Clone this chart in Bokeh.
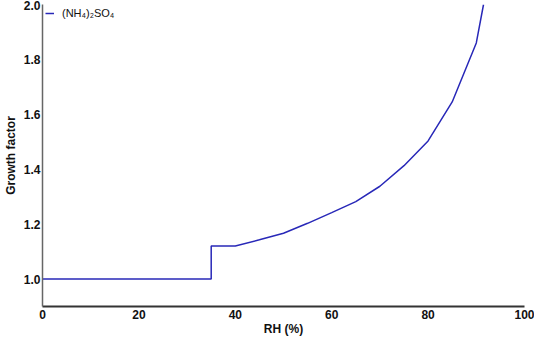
from bokeh.plotting import figure
from bokeh.models import FixedTicker, Range1d, Legend, LegendItem, NumeralTickFormatter
from bokeh.embed import file_html
from bokeh.resources import INLINE

# Data
rh = [0, 35, 35, 40, 45, 50, 55, 60, 65, 70, 75, 80, 85, 90, 91.5]
growth_factor = [1.0, 1.0, 1.12, 1.12, 1.143, 1.167, 1.203, 1.242, 1.282, 1.338, 1.413, 1.503, 1.645, 1.86, 2.0]
series_label = "(NH\u2084)\u2082SO\u2084"
x_ticks = [0, 20, 40, 60, 80, 100]
y_ticks = [1.0, 1.2, 1.4, 1.6, 1.8, 2.0]

FONT = "Liberation Sans"

p = figure(width=534, height=338, output_backend="svg", toolbar_location=None,
           x_range=Range1d(0, 100), y_range=Range1d(0.9, 2.0),
           min_border_left=30, min_border_right=10, min_border_top=4, min_border_bottom=26)
p.outline_line_color = None
p.grid.visible = False
p.background_fill_color = "white"
p.border_fill_color = "white"

line = p.line(rh, growth_factor, line_color="#2828b8", line_width=1.5)

for ax in (p.xaxis[0], p.yaxis[0]):
    ax.major_tick_line_color = None
    ax.minor_tick_line_color = None
    ax.major_tick_out = 0
    ax.major_tick_in = 0
    ax.major_label_text_font = FONT
    ax.major_label_text_font_style = "bold"
    ax.major_label_text_font_size = "12px"
    ax.major_label_text_color = "#111111"
    ax.axis_label_text_font = FONT
    ax.axis_label_text_font_style = "bold"
    ax.axis_label_text_font_size = "12px"
    ax.axis_label_text_color = "#111111"

p.xaxis.ticker = FixedTicker(ticks=x_ticks)
p.yaxis.ticker = FixedTicker(ticks=y_ticks)
p.yaxis.formatter = NumeralTickFormatter(format="0.0")
p.xaxis.axis_label = "RH (%)"
p.yaxis.axis_label = "Growth factor"
p.xaxis.axis_line_color = "#333333"
p.xaxis.axis_line_width = 2
p.yaxis.axis_line_color = "#666666"
p.yaxis.axis_line_width = 1.5
p.xaxis.major_label_standoff = 3
p.yaxis.major_label_standoff = 2
p.xaxis.axis_label_standoff = 0
p.yaxis.axis_label_standoff = 3

legend = Legend(items=[LegendItem(label=series_label, renderers=[line])],
                location="top_left", border_line_color=None, background_fill_alpha=0,
                label_text_font=FONT, label_text_font_size="11px", label_text_color="#111111",
                glyph_width=9, glyph_height=12, margin=3, padding=5, spacing=0,
                label_standoff=8)
p.add_layout(legend)

open("out.html", "w").write(file_html(p, INLINE))
